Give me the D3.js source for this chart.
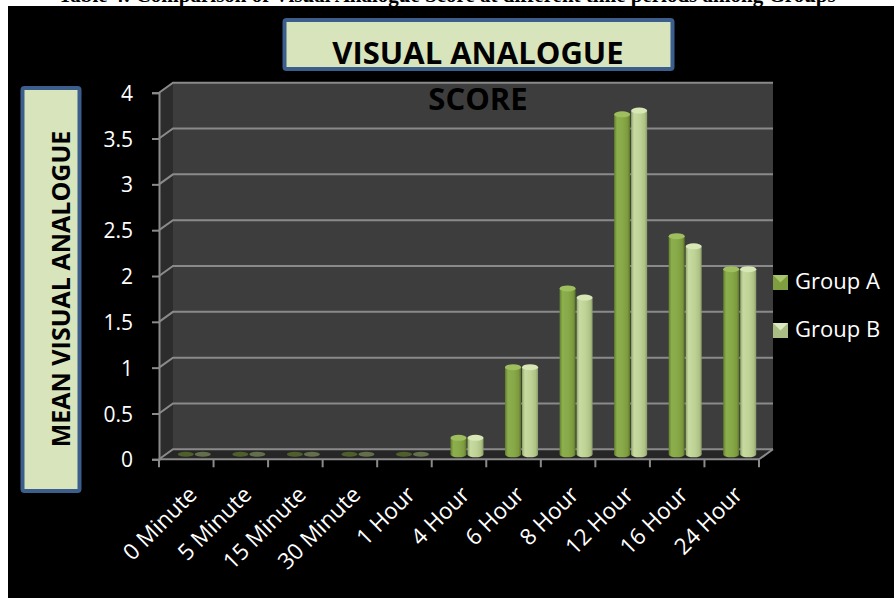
<!DOCTYPE html>
<html>
<head>
<meta charset="UTF-8">
<title>Visual Analogue Score</title>
<script src="https://d3js.org/d3.v7.min.js"></script>
<style>
  body { margin: 0; background: #fff; }
  svg { display: block; }
  .tick-label { font-family: "Open Sans", sans-serif; font-size: 21px; fill: #fff; }
  .box-title { font-family: "Open Sans", sans-serif; font-weight: 700; fill: #000; }
</style>
</head>
<body>
<script>
// chart values
var categories = ["0 Minute", "5 Minute", "15 Minute", "30 Minute", "1 Hour", "4 Hour",
                  "6 Hour", "8 Hour", "12 Hour", "16 Hour", "24 Hour"];
var groupA = [0, 0, 0, 0, 0, 0.18, 0.95, 1.81, 3.71, 2.38, 2.02];
var groupB = [0, 0, 0, 0, 0, 0.18, 0.95, 1.71, 3.75, 2.27, 2.02];
var seriesNames = ["Group A", "Group B"];
var yTicks = [0, 0.5, 1, 1.5, 2, 2.5, 3, 3.5, 4];

var W = 894, H = 598;
var svg = d3.select("body").append("svg").attr("width", W).attr("height", H);

// page bits around the chart picture (caption line cut off at the top)
svg.append("rect").attr("width", W).attr("height", H).attr("fill", "#fff");
svg.append("text")
   .attr("x", 447).attr("y", 2)
   .attr("text-anchor", "middle")
   .style("font-family", "'Liberation Serif', serif")
   .style("font-weight", "700").style("font-size", "21px")
   .text("Table 4: Comparison of Visual Analogue Score at different time periods among Groups");
svg.append("rect").attr("x", 8).attr("y", 6).attr("width", W - 8).attr("height", H - 6).attr("fill", "#000");

// scales
var x = d3.scaleBand().domain(categories).range([159, 759]);
var y = d3.scaleLinear().domain([0, 4]).range([459.3, 92.7]);
var dx = 14, dy = -10; // depth of the 3d box

var defs = svg.append("defs");
function cylGrad(id, stops) {
  var g = defs.append("linearGradient").attr("id", id).attr("x1", 0).attr("x2", 1).attr("y1", 0).attr("y2", 0);
  stops.forEach(function(s) { g.append("stop").attr("offset", s[0]).attr("stop-color", s[1]); });
}
cylGrad("gradA", [[0, "#62802c"], [0.18, "#8cae4c"], [0.55, "#88a948"], [0.85, "#7c9a3e"], [1, "#5a7329"]]);
cylGrad("gradB", [[0, "#95aa6d"], [0.18, "#c7daa1"], [0.55, "#bfd396"], [0.85, "#aec286"], [1, "#8a9c67"]]);
var capCol = ["#9fbf5f", "#d7e7b6"];
var flatCol = ["#4f5f2c", "#626f4a"];

var y0 = y(0), y4 = y(4);
var xl = x.range()[0], xr = x.range()[1];

// side wall, back wall, floor
svg.append("polygon")
   .attr("points", [[xl, y0], [xl + dx, y0 + dy], [xl + dx, y4 + dy], [xl, y4]].join(" "))
   .attr("fill", "#2c2c2c");
svg.append("rect")
   .attr("x", xl + dx).attr("y", y4 + dy)
   .attr("width", xr - xl).attr("height", y0 - y4)
   .attr("fill", "#3d3d3d");
svg.append("polygon")
   .attr("points", [[xl, y0], [xr, y0], [xr + dx, y0 + dy], [xl + dx, y0 + dy]].join(" "))
   .attr("fill", "#262626");

// gridlines
var grid = svg.append("g").attr("stroke", "#8a8a8a").attr("stroke-width", 2).attr("fill", "none");
yTicks.forEach(function(t) {
  grid.append("polyline")
      .attr("points", [[xl, y(t)], [xl + dx, y(t) + dy], [xr + dx, y(t) + dy]].join(" "));
});
grid.append("line").attr("x1", xr).attr("y1", y0).attr("x2", xr + dx).attr("y2", y0 + dy);

// y axis
var yAxis = svg.append("g").attr("transform", "translate(" + xl + ",0)")
   .call(d3.axisLeft(y).tickValues(yTicks).tickSize(7).tickPadding(19).tickFormat(d3.format("")));
yAxis.select(".domain").attr("stroke", "#8a8a8a").attr("stroke-width", 2);
yAxis.selectAll(".tick line").attr("stroke", "#8a8a8a").attr("stroke-width", 2);
yAxis.selectAll(".tick text").attr("class", "tick-label").attr("dy", "0.36em");

// x axis: front edge, ticks between categories, rotated labels
var xAxis = svg.append("g");
xAxis.append("line").attr("x1", xl).attr("x2", xr).attr("y1", y0).attr("y2", y0)
     .attr("stroke", "#8a8a8a").attr("stroke-width", 2);
xAxis.selectAll(".xt").data(d3.range(categories.length + 1)).join("line")
     .attr("x1", function(i) { return xl + i * x.step(); })
     .attr("x2", function(i) { return xl + i * x.step(); })
     .attr("y1", y0).attr("y2", y0 + 8)
     .attr("stroke", "#8a8a8a").attr("stroke-width", 2);
xAxis.selectAll(".xl").data(categories).join("text")
     .attr("class", "tick-label").style("font-size", "22.5px")
     .attr("text-anchor", "end")
     .attr("transform", function(d) {
       return "translate(" + (x(d) + x.bandwidth() / 2 + 12) + "," + 496 + ") rotate(-45)";
     })
     .text(function(d) { return d; });

// "SCORE" - second line of the title sits on the wall
svg.append("text").attr("class", "box-title")
   .attr("x", 478).attr("y", 110).attr("text-anchor", "middle")
   .style("font-size", "31px").text("SCORE");

// bars as cylinders in the middle of the depth
var bw = 16, ry = 3;
var shiftX = dx / 2 + 1, shiftY = dy / 2;
var series = [groupA, groupB];
series.forEach(function(vals, j) {
  var g = svg.append("g");
  var cx = function(i) { return x(categories[i]) + x.bandwidth() / 2 + shiftX + (j === 0 ? -bw / 2 - 0.5 : bw / 2 + 0.5); };
  var base = y0 + shiftY;
  vals.forEach(function(v, i) {
    var c = cx(i), top = y(v) + shiftY;
    if (v === 0) {
      g.append("ellipse").attr("cx", c).attr("cy", base).attr("rx", bw / 2).attr("ry", 2.5).attr("fill", flatCol[j]);
      return;
    }
    g.append("ellipse").attr("cx", c).attr("cy", base).attr("rx", bw / 2).attr("ry", ry)
     .attr("fill", j === 0 ? "url(#gradA)" : "url(#gradB)");
    g.append("rect").attr("x", c - bw / 2).attr("y", top).attr("width", bw).attr("height", base - top)
     .attr("fill", j === 0 ? "url(#gradA)" : "url(#gradB)");
    g.append("ellipse").attr("cx", c).attr("cy", top).attr("rx", bw / 2).attr("ry", ry).attr("fill", capCol[j]);
  });
});

// legend
var legY = [275, 323];
var legFill = [["#7f9e40", "#a9c66d"], ["#a9bd85", "#dbe9c0"]];
seriesNames.forEach(function(name, j) {
  var lx = 773, ly = legY[j];
  svg.append("rect").attr("x", lx).attr("y", ly).attr("width", 15).attr("height", 15).attr("fill", legFill[j][0]);
  svg.append("polygon").attr("points", [[lx, ly], [lx + 15, ly], [lx + 7.5, ly + 7.5]].join(" ")).attr("fill", legFill[j][1]);
  svg.append("text").attr("class", "tick-label").style("font-size", "22px")
     .attr("x", 795).attr("y", ly + 13.5).text(name);
});

// title box
svg.append("rect").attr("x", 284.5).attr("y", 20).attr("width", 388).attr("height", 49).attr("rx", 2)
   .attr("fill", "#d8e4bc").attr("stroke", "#3b5e8c").attr("stroke-width", 4);
svg.append("text").attr("class", "box-title")
   .attr("x", 478).attr("y", 64).attr("text-anchor", "middle")
   .style("font-size", "31px").text("VISUAL ANALOGUE");

// y axis title box
svg.append("rect").attr("x", 22.5).attr("y", 88).attr("width", 57).attr("height", 403).attr("rx", 2)
   .attr("fill", "#d8e4bc").attr("stroke", "#3b5e8c").attr("stroke-width", 4);
svg.append("text").attr("class", "box-title")
   .attr("transform", "translate(70,289) rotate(-90)")
   .attr("text-anchor", "middle").style("font-size", "25px")
   .text("MEAN VISUAL ANALOGUE");
</script>
</body>
</html>
